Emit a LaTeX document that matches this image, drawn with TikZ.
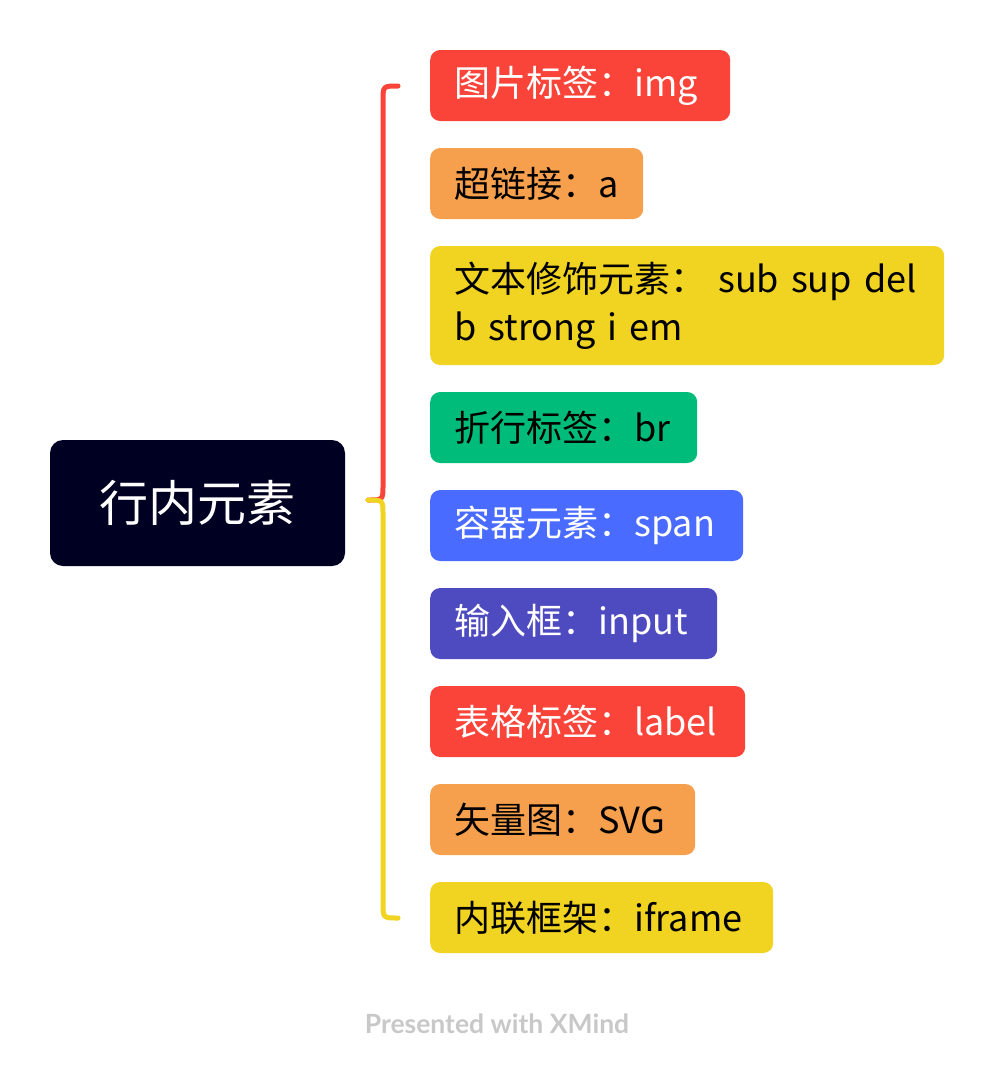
\documentclass[tikz,border=0pt]{standalone}
\usepackage{fontspec}
\setmainfont{Noto Sans CJK SC}
\newfontfamily\footfont{Lato}
\definecolor{cred}{RGB}{250,68,58}
\definecolor{corange}{RGB}{246,160,77}
\definecolor{cyellow}{RGB}{241,211,34}
\definecolor{cgreen}{RGB}{0,188,123}
\definecolor{cblue}{RGB}{74,107,255}
\definecolor{cpurple}{RGB}{78,75,192}
\definecolor{cnavy}{RGB}{0,0,34}
\definecolor{cgray}{RGB}{200,200,200}
\begin{document}
\begin{tikzpicture}[x=1pt,y=-1pt,
  leaf/.style={anchor=west, rounded corners=10pt, inner xsep=24pt, inner ysep=0pt,
    minimum height=71pt, align=left, font=\fontsize{36}{48}\selectfont},
  rootnode/.style={rounded corners=13pt, fill=cnavy, text=white, minimum width=295pt,
    minimum height=126pt, inner sep=0pt, font=\fontsize{49}{55}\selectfont},
  brace/.style={line width=5pt, line cap=round}]
\useasboundingbox (0,0) rectangle (994,1074);
\node[rootnode] (root) at (197.5,503) {行内元素};
\node[leaf, fill=cred, text=white, text width=252pt] (n1) at (430,85.5) {图片标签：img};
\node[leaf, fill=corange, text=black, text width=165pt] (n2) at (430,183.5) {超链接：a};
\node[leaf, fill=cyellow, text=black, text width=466pt, minimum height=119pt] (n3) at (430,305.5) {文本修饰元素： sub sup del\\b strong i em};
\node[leaf, fill=cgreen, text=black, text width=219pt] (n4) at (430,427.5) {折行标签：br};
\node[leaf, fill=cblue, text=white, text width=265pt] (n5) at (430,525.5) {容器元素：span};
\node[leaf, fill=cpurple, text=white, text width=239pt] (n6) at (430,623.5) {输入框：input};
\node[leaf, fill=cred, text=white, text width=267pt] (n7) at (430,721.5) {表格标签：label};
\node[leaf, fill=corange, text=black, text width=217pt] (n8) at (430,819.5) {矢量图：SVG};
\node[leaf, fill=cyellow, text=black, text width=295pt] (n9) at (430,917.5) {内联框架：iframe};
\coordinate (bt) at (398,86);
\coordinate (bm) at (368,500);
\coordinate (bb) at (398,918);
\draw[brace, cred] (bt) .. controls (383,86) .. (383,101) -- (383,485) .. controls (383,500) .. (bm);
\draw[brace, cyellow] (bm) .. controls (383,500) .. (383,515) -- (383,903) .. controls (383,918) .. (bb);
\node[font=\footfont\bfseries\fontsize{26.5}{30}\selectfont, text=cgray] (foot) at (497,1024) {Presented with XMind};
\end{tikzpicture}
\end{document}
